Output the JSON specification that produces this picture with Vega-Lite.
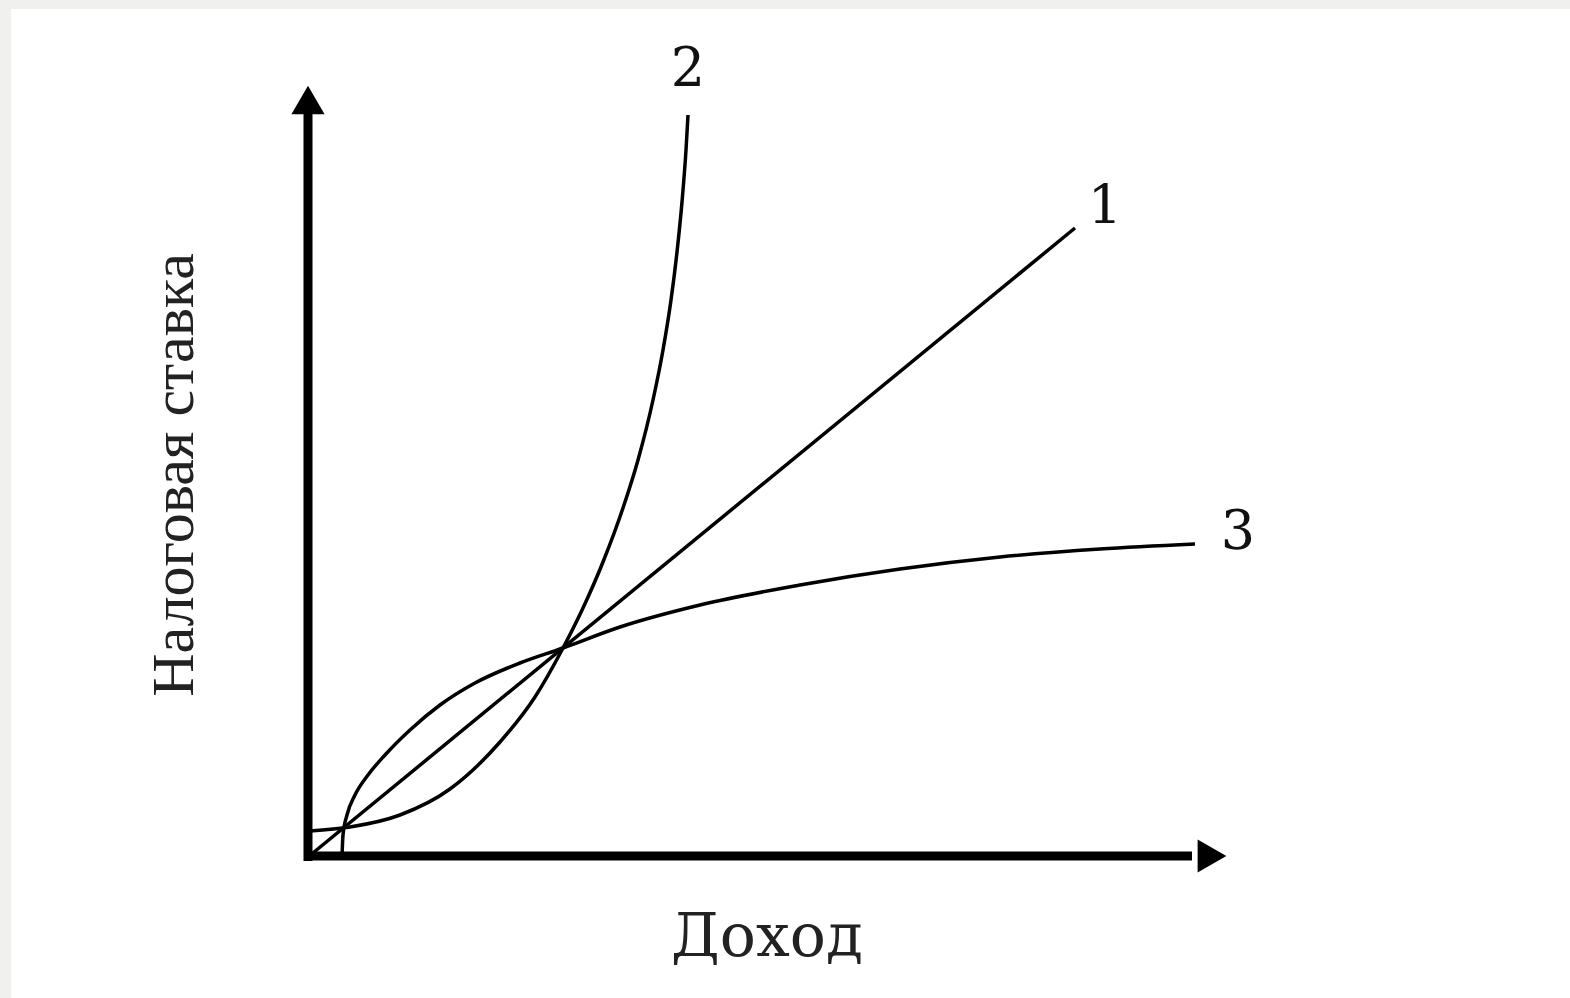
{
  "$schema": "https://vega.github.io/schema/vega-lite/v6.json",
  "width": 1570,
  "height": 998,
  "autosize": {"type": "fit", "contains": "padding"},
  "padding": {"left": 11, "top": 9, "right": 0, "bottom": 0},
  "background": "#f0f0ee",
  "config": {"view": {"stroke": null, "fill": "white"}},
  "datasets": {
    "curves": [
      {"series": "1", "x": 0, "y": 0},
      {"series": "1", "x": 767, "y": 629},
      {"series": "2", "x": 2, "y": 26},
      {"series": "2", "x": 42, "y": 30},
      {"series": "2", "x": 92, "y": 42},
      {"series": "2", "x": 142, "y": 68},
      {"series": "2", "x": 192, "y": 115},
      {"series": "2", "x": 227, "y": 160},
      {"series": "2", "x": 255, "y": 209},
      {"series": "2", "x": 275, "y": 249},
      {"series": "2", "x": 295, "y": 295},
      {"series": "2", "x": 315, "y": 349},
      {"series": "2", "x": 330, "y": 397},
      {"series": "2", "x": 345, "y": 457},
      {"series": "2", "x": 355, "y": 507},
      {"series": "2", "x": 363, "y": 557},
      {"series": "2", "x": 369, "y": 605},
      {"series": "2", "x": 374, "y": 655},
      {"series": "2", "x": 378, "y": 707},
      {"series": "2", "x": 380, "y": 742},
      {"series": "3", "x": 34, "y": 0},
      {"series": "3", "x": 35, "y": 22},
      {"series": "3", "x": 39, "y": 42},
      {"series": "3", "x": 47, "y": 62},
      {"series": "3", "x": 60, "y": 82},
      {"series": "3", "x": 77, "y": 102},
      {"series": "3", "x": 102, "y": 127},
      {"series": "3", "x": 132, "y": 152},
      {"series": "3", "x": 167, "y": 174},
      {"series": "3", "x": 212, "y": 194},
      {"series": "3", "x": 255, "y": 209},
      {"series": "3", "x": 312, "y": 230},
      {"series": "3", "x": 392, "y": 252},
      {"series": "3", "x": 492, "y": 272},
      {"series": "3", "x": 592, "y": 288},
      {"series": "3", "x": 692, "y": 300},
      {"series": "3", "x": 792, "y": 308},
      {"series": "3", "x": 887, "y": 313}
    ],
    "axes": [
      {"name": "y", "x": 0, "x2": 0, "y": -4, "y2": 745},
      {"name": "x", "x": -4, "x2": 884, "y": 1, "y2": 1}
    ],
    "heads": [
      {"name": "y", "x": 0, "y": 757, "shape": "triangle-up"},
      {"name": "x", "x": 904, "y": 1, "shape": "triangle-right"}
    ],
    "labels": [
      {"text": "2", "x": 380, "y": 787},
      {"text": "1", "x": 797, "y": 649},
      {"text": "3", "x": 930, "y": 324}
    ],
    "xtitle": [
      {"text": "Доход", "x": 459, "y": -81}
    ],
    "ytitle": [
      {"text": "Налоговая ставка", "x": -133, "y": 382}
    ]
  },
  "encoding": {
    "x": {"field": "x", "type": "quantitative", "axis": null, "scale": {"domain": [-297, 1262], "nice": false, "zero": false}},
    "y": {"field": "y", "type": "quantitative", "axis": null, "scale": {"domain": [-141, 848], "nice": false, "zero": false}}
  },
  "layer": [
    {
      "data": {"name": "curves"},
      "mark": {"type": "line", "interpolate": "monotone", "color": "black", "strokeWidth": 3.5},
      "encoding": {"detail": {"field": "series"}}
    },
    {
      "data": {"name": "axes"},
      "mark": {"type": "rule", "color": "black", "strokeWidth": 9},
      "encoding": {
        "x2": {"field": "x2"},
        "y2": {"field": "y2"}
      }
    },
    {
      "data": {"name": "heads"},
      "mark": {"type": "point", "filled": true, "color": "black", "opacity": 1, "size": 1100},
      "encoding": {"shape": {"field": "shape", "type": "nominal", "scale": null}}
    },
    {
      "data": {"name": "labels"},
      "mark": {"type": "text", "font": "DejaVu Serif", "fontSize": 54, "color": "#111", "baseline": "middle", "align": "center"},
      "encoding": {"text": {"field": "text"}}
    },
    {
      "data": {"name": "xtitle"},
      "mark": {"type": "text", "font": "DejaVu Serif", "fontSize": 60, "color": "#222", "baseline": "middle", "align": "center"},
      "encoding": {"text": {"field": "text"}}
    },
    {
      "data": {"name": "ytitle"},
      "mark": {"type": "text", "font": "Liberation Serif", "fontSize": 60, "angle": 270, "color": "#222", "baseline": "middle", "align": "center"},
      "encoding": {"text": {"field": "text"}}
    }
  ]
}
